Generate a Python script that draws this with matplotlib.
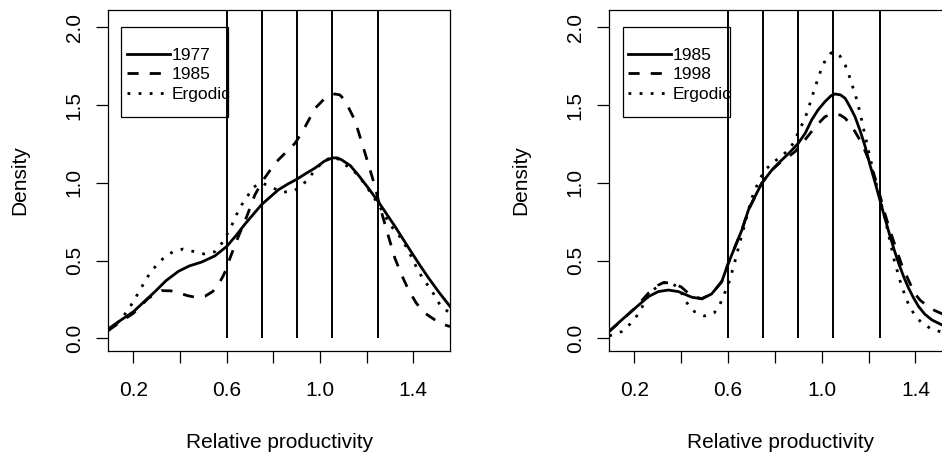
import matplotlib.pyplot as plt
from matplotlib.patches import Rectangle

plt.rcParams['font.family'] = ['Liberation Sans', 'DejaVu Sans']

# class boundaries of relative productivity
cuts = [0.6, 0.75, 0.9, 1.05, 1.25]

# left panel: 1977, 1985 and ergodic densities
x77 = [0.093, 0.15, 0.2, 0.25, 0.293, 0.34, 0.393, 0.44, 0.493, 0.55, 0.6, 0.64,
       0.679, 0.75, 0.821, 0.86, 0.9, 0.94, 0.979, 1.02, 1.053, 1.075, 1.093,
       1.13, 1.164, 1.21, 1.25, 1.285, 1.321, 1.357, 1.393, 1.43, 1.464, 1.51, 1.557]
d77 = [0.06, 0.12, 0.17, 0.24, 0.30, 0.37, 0.43, 0.465, 0.49, 0.53, 0.59, 0.66,
       0.735, 0.86, 0.954, 0.99, 1.022, 1.06, 1.095, 1.14, 1.16, 1.16, 1.147,
       1.11, 1.05, 0.96, 0.878, 0.80, 0.72, 0.635, 0.55, 0.465, 0.39, 0.295, 0.205]

x85a = [0.093, 0.15, 0.2, 0.264, 0.321, 0.36, 0.393, 0.43, 0.464, 0.507, 0.54,
        0.564, 0.585, 0.6, 0.614, 0.65, 0.686, 0.721, 0.757, 0.807, 0.85, 0.893,
        0.929, 0.979, 1.021, 1.064, 1.085, 1.107, 1.15, 1.193, 1.236, 1.257, 1.279,
        1.3, 1.321, 1.35, 1.379, 1.413, 1.45, 1.514, 1.557]
d85a = [0.05, 0.11, 0.16, 0.257, 0.306, 0.305, 0.293, 0.275, 0.264, 0.27, 0.30,
        0.343, 0.40, 0.45, 0.514, 0.653, 0.782, 0.922, 1.018, 1.125, 1.19, 1.254,
        1.34, 1.479, 1.543, 1.571, 1.565, 1.53, 1.40, 1.19, 0.975, 0.846, 0.729,
        0.621, 0.514, 0.407, 0.311, 0.225, 0.161, 0.096, 0.075]

xerg_a = [0.093, 0.14, 0.176, 0.2, 0.221, 0.247, 0.271, 0.3, 0.333, 0.371, 0.414,
          0.461, 0.504, 0.55, 0.579, 0.6, 0.624, 0.643, 0.664, 0.69, 0.714, 0.75,
          0.8, 0.843, 0.89, 0.929, 0.957, 0.986, 1.02, 1.061, 1.09, 1.121, 1.164,
          1.193, 1.221, 1.264, 1.30, 1.348, 1.369, 1.39, 1.412, 1.436, 1.464, 1.493,
          1.514, 1.557]
derg_a = [0.05, 0.11, 0.178, 0.235, 0.29, 0.358, 0.418, 0.471, 0.521, 0.557, 0.574,
          0.557, 0.542, 0.557, 0.61, 0.664, 0.733, 0.797, 0.857, 0.915, 0.971, 1.0,
          0.965, 0.939, 0.949, 0.992, 1.04, 1.093, 1.145, 1.168, 1.14, 1.10, 1.05,
          0.986, 0.93, 0.825, 0.73, 0.643, 0.589, 0.529, 0.46, 0.396, 0.336, 0.272,
          0.214, 0.16]

# right panel: 1985, 1998 and ergodic densities
x85b = [0.093, 0.146, 0.203, 0.26, 0.302, 0.345, 0.388, 0.445, 0.488, 0.53, 0.573,
        0.601, 0.63, 0.659, 0.687, 0.715, 0.744, 0.787, 0.822, 0.86, 0.9, 0.93,
        0.957, 0.985, 1.014, 1.04, 1.057, 1.08, 1.1, 1.12, 1.142, 1.165, 1.185,
        1.205, 1.228, 1.25, 1.27, 1.29, 1.31, 1.33, 1.35, 1.37, 1.39, 1.413, 1.44,
        1.47, 1.513, 1.557]
d85b = [0.045, 0.118, 0.193, 0.268, 0.30, 0.31, 0.30, 0.264, 0.253, 0.285, 0.364,
        0.482, 0.589, 0.696, 0.825, 0.911, 0.997, 1.082, 1.136, 1.19, 1.254, 1.32,
        1.404, 1.47, 1.522, 1.56, 1.571, 1.565, 1.543, 1.49, 1.425, 1.33, 1.235,
        1.12, 1.0, 0.88, 0.77, 0.665, 0.565, 0.475, 0.395, 0.325, 0.265, 0.205, 0.155,
        0.118, 0.086, 0.065]

x98 = [0.093, 0.146, 0.203, 0.26, 0.3, 0.324, 0.36, 0.4, 0.445, 0.488, 0.53, 0.573,
       0.601, 0.63, 0.659, 0.687, 0.715, 0.744, 0.787, 0.822, 0.86, 0.886, 0.92,
       0.957, 0.985, 1.014, 1.04, 1.057, 1.08, 1.1, 1.12, 1.142, 1.171, 1.2, 1.228,
       1.25, 1.27, 1.29, 1.31, 1.342, 1.37, 1.396, 1.42, 1.453, 1.48, 1.51, 1.557]
d98 = [0.045, 0.115, 0.195, 0.29, 0.34, 0.358, 0.355, 0.33, 0.27, 0.255, 0.285, 0.364,
       0.482, 0.589, 0.696, 0.825, 0.911, 0.997, 1.082, 1.13, 1.17, 1.2, 1.26,
       1.33, 1.38, 1.425, 1.44, 1.442, 1.435, 1.415, 1.38, 1.329, 1.254, 1.15, 1.03,
       0.91, 0.80, 0.70, 0.61, 0.47, 0.375, 0.29, 0.245, 0.205, 0.18, 0.16, 0.13]

xerg_b = [0.093, 0.146, 0.182, 0.21, 0.234, 0.253, 0.28, 0.31, 0.33, 0.36, 0.39,
          0.413, 0.435, 0.456, 0.499, 0.542, 0.566, 0.584, 0.604, 0.627, 0.651,
          0.673, 0.698, 0.732, 0.755, 0.787, 0.826, 0.858, 0.883, 0.903, 0.922,
          0.939, 0.953, 0.967, 0.981, 0.996, 1.014, 1.04, 1.06, 1.078, 1.1, 1.117,
          1.131, 1.145, 1.157, 1.168, 1.178, 1.188, 1.199, 1.216, 1.235, 1.25, 1.27,
          1.29, 1.31, 1.334, 1.353, 1.37, 1.394, 1.424, 1.463, 1.51, 1.557]
derg_b = [0.015, 0.043, 0.092, 0.143, 0.203, 0.257, 0.31, 0.345, 0.358, 0.355, 0.32,
          0.26, 0.2, 0.172, 0.143, 0.165, 0.22, 0.285, 0.36, 0.48, 0.621, 0.74,
          0.889, 1.014, 1.076, 1.125, 1.168, 1.211, 1.264, 1.335, 1.393, 1.457,
          1.526, 1.592, 1.657, 1.721, 1.785, 1.835, 1.84, 1.815, 1.758, 1.689,
          1.623, 1.558, 1.489, 1.421, 1.35, 1.286, 1.21, 1.10, 0.98, 0.89, 0.77,
          0.635, 0.50, 0.37, 0.285, 0.22, 0.156, 0.103, 0.064, 0.04, 0.025]

W, H = 942, 455
fig = plt.figure(figsize=(W / 100, H / 100), dpi=100)


def panel(left_px, width_px, curves, labels, box_left):
    ax = fig.add_axes([left_px / W, 104 / H, width_px / W, 341 / H])
    ax.vlines(cuts, 0, 2.3, colors='black', lw=1.4)
    styles = ['-', (0, (4, 4)), (0, (1, 3))]
    handles = []
    for (x, y), ls in zip(curves, styles):
        h, = ax.plot(x, y, color='black', lw=2, linestyle=ls)
        handles.append(h)
    ax.set_xlim(0.093, 1.557)
    ax.set_ylim(-0.082, 2.111)

    ax.set_xticks([0.2, 0.4, 0.6, 0.8, 1.0, 1.2, 1.4])
    ax.set_xticklabels(['0.2', '', '0.6', '', '1.0', '', '1.4'], fontsize=15)
    ax.set_yticks([0.0, 0.5, 1.0, 1.5, 2.0])
    ax.set_yticklabels(['0.0', '0.5', '1.0', '1.5', '2.0'], fontsize=15,
                       rotation=90, va='center')
    ax.tick_params(axis='x', length=8.6, width=0.9, pad=13)
    ax.tick_params(axis='y', length=8.6, width=0.9, pad=9)
    for s in ax.spines.values():
        s.set_linewidth(0.9)

    ax.set_xlabel('Relative productivity', fontsize=15, va='center')
    ax.xaxis.set_label_coords(0.5, -91.5 / 341)
    ax.set_ylabel('Density', fontsize=15, va='center')
    ax.yaxis.set_label_coords(-89 / width_px, 0.5)

    # legend text and keys, with a plain box drawn round them
    ax.add_patch(Rectangle((box_left / width_px, 0.685), 107.3 / width_px, 0.264,
                           transform=ax.transAxes, fill=False, ec='black', lw=0.9,
                           zorder=5))
    ax.legend(handles, labels, loc='upper left',
              bbox_to_anchor=(18.4 / width_px, 0.89), borderaxespad=0,
              borderpad=0, frameon=False, fontsize=12.5, handlelength=2.47,
              handletextpad=0.1, labelspacing=0.25)
    return ax


panel(108.3, 341.7, [(x77, d77), (x85a, d85a), (xerg_a, derg_a)],
      ['1977', '1985', 'Ergodic'], 12.7)
panel(609.3, 342.9, [(x85b, d85b), (x98, d98), (xerg_b, derg_b)],
      ['1985', '1998', 'Ergodic'], 13.4)

fig.savefig('out.png', dpi=100)
